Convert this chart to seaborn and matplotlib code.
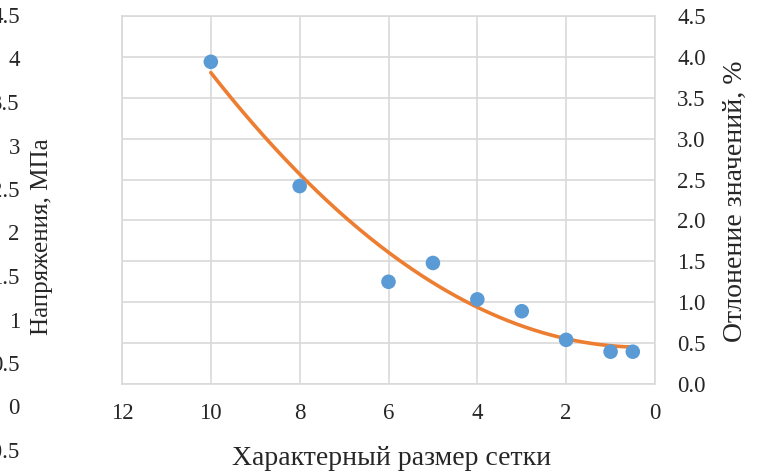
import matplotlib
matplotlib.use("Agg")
import matplotlib.pyplot as plt
import seaborn as sns
import numpy as np
import pandas as pd

# data
mesh_size = [10, 8, 6, 5, 4, 3, 2, 1, 0.5]
deviation = [3.94, 2.42, 1.25, 1.48, 1.035, 0.89, 0.54, 0.395, 0.395]
x_ticks = [12, 10, 8, 6, 4, 2, 0]
right_ticks = [0.0, 0.5, 1.0, 1.5, 2.0, 2.5, 3.0, 3.5, 4.0, 4.5]
left_ticks = [-0.5, 0, 0.5, 1, 1.5, 2, 2.5, 3, 3.5, 4, 4.5]

df = pd.DataFrame({"x": mesh_size, "y": deviation})

# second order polynomial trend, like excel
coef = np.polyfit(df.x, df.y, 2)
xs = np.linspace(max(mesh_size), min(mesh_size), 200)
trend = pd.DataFrame({"x": xs, "y": np.polyval(coef, xs)})

sns.set_theme(style="white")
plt.rcParams['font.family'] = ['Liberation Serif', 'DejaVu Serif']
grid_c = '#D9D9D9'
text_c = '#262626'
tick_fs = 16.5

W, H = 761, 472
fig = plt.figure(figsize=(W / 100, H / 100), dpi=100)
ax = fig.add_axes([122 / W, (H - 384) / H, (655 - 122) / W, (384 - 16) / H])

sns.lineplot(data=trend, x="x", y="y", ax=ax, color='#ED7D31', linewidth=2.6,
             sort=False, zorder=3)
sns.scatterplot(data=df, x="x", y="y", ax=ax, color='#5B9BD5', s=110,
                edgecolor='none', zorder=4)

ax.set_xlim(12, 0)
ax.set_ylim(0, 4.5)
ax.set_xticks(x_ticks)
ax.set_xticklabels([str(t) for t in x_ticks])
ax.set_yticks(right_ticks)
ax.set_yticklabels([f"{t:.1f}" for t in right_ticks])
ax.yaxis.tick_right()
ax.yaxis.set_label_position("right")
ax.tick_params(axis='y', length=0, pad=16, labelsize=tick_fs, labelcolor=text_c)
ax.tick_params(axis='x', length=0, pad=14, labelsize=tick_fs, labelcolor=text_c)
ax.grid(True, color=grid_c, linewidth=1.2)
for sp in ax.spines.values():
    sp.set_color(grid_c)
    sp.set_linewidth(1.2)
ax.set_xlabel("Характерный размер сетки", fontsize=20, color=text_c)
ax.set_ylabel("Отлонение значений, %", fontsize=20, color=text_c)
ax.xaxis.set_label_coords(0.505, -0.168)
ax.yaxis.set_label_coords(1.128, 0.497)

# left axis (partly cut off at the image edge)
ax2 = fig.add_axes([24 / W, (H - 450) / H, 100 / W, (450 - 15) / H])
ax2.set_ylim(-0.5, 4.5)
ax2.set_yticks(left_ticks)
ax2.set_yticklabels([f"{t:g}" for t in left_ticks])
ax2.set_xticks([])
ax2.patch.set_visible(False)
for sp in ax2.spines.values():
    sp.set_visible(False)
ax2.tick_params(axis='y', length=0, pad=3, labelsize=tick_fs, labelcolor=text_c)
ax2.set_ylabel("Напряжения, МПа", fontsize=18, color=text_c)
ax2.yaxis.set_label_coords(0.29, 0.49)

fig.savefig("out.png", dpi=100)
